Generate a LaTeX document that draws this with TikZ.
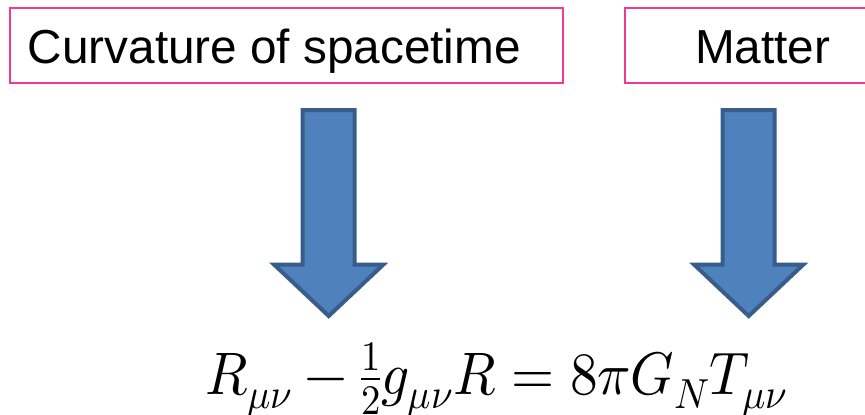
\documentclass[tikz,border=0pt]{standalone}
\usepackage{fontspec}
\setmainfont{Liberation Sans}
\usepackage{unicode-math}
\setmathfont{Latin Modern Math}
\definecolor{boxpink}{RGB}{240,58,150}
\definecolor{arrowfill}{RGB}{79,129,189}
\definecolor{arrowline}{RGB}{56,93,138}
\tikzset{
  pinkbox/.style={draw=boxpink, line width=2pt, rectangle, inner sep=0pt, anchor=north west},
  boxlabel/.style={inner sep=0pt, anchor=base west, font=\fontsize{47.7}{57}\selectfont},
  blockarrow/.style={fill=arrowfill, draw=arrowline, line width=4pt, line join=miter},
  eqlabel/.style={inner sep=0pt, anchor=base west, font=\fontsize{60}{72}\selectfont}
}
\newcommand{\downblock}[1]{%
  \draw[blockarrow] (#1-26,110) -- (#1+26,110) -- (#1+26,264.7) -- (#1+54.5,264.7)
    -- (#1,316) -- (#1-54.5,264.7) -- (#1-26,264.7) -- cycle;}
\begin{document}
\begin{tikzpicture}[x=1pt,y=-1pt]
\useasboundingbox (0,0) rectangle (865,415);
\clip (0,0) rectangle (865,415);
\node[pinkbox, minimum width=553pt, minimum height=75pt] (curvbox) at (9,7) {};
\node[boxlabel] (curvtext) at (27.6,63) {Curvature of spacetime};
\node[pinkbox, minimum width=300pt, minimum height=75pt] (matterbox) at (624,7) {};
\node[boxlabel] (mattertext) at (695,63) {Matter};
\downblock{328.7}
\downblock{748.7}
\node[eqlabel] (einstein) at (205,394) {\scalebox{0.922}[1]{$R_{\mu\nu}-\frac{1}{2}g_{\mu\nu}R=8\pi G_N T_{\mu\nu}$}};
\end{tikzpicture}
\end{document}
